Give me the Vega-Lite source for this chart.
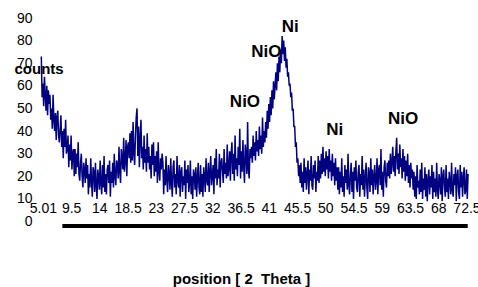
{
  "$schema": "https://vega.github.io/schema/vega-lite/v6.json",
  "width": 428,
  "height": 208,
  "autosize": "none",
  "padding": {"left": 41, "top": 18, "right": 9, "bottom": 61},
  "background": "white",
  "config": {"view": {"stroke": null}, "font": "Liberation Sans"},
  "datasets": {
    "xrd": [
      {"x":4.75,"y":73},{"x":4.875,"y":55},{"x":5.0,"y":61},{"x":5.125,"y":51},{"x":5.25,"y":64},{"x":5.375,"y":56},{"x":5.5,"y":49},{"x":5.625,"y":60},{"x":5.75,"y":47},{"x":5.875,"y":58},{"x":6.0,"y":52},
      {"x":6.125,"y":56},{"x":6.25,"y":45},{"x":6.375,"y":50},{"x":6.5,"y":41},{"x":6.625,"y":56},{"x":6.75,"y":45},{"x":6.875,"y":40},{"x":7.0,"y":48},{"x":7.125,"y":36},{"x":7.25,"y":46},{"x":7.375,"y":49},{"x":7.5,"y":38},{"x":7.625,"y":35},{"x":7.75,"y":41},{"x":7.875,"y":47},{"x":8.0,"y":33},{"x":8.125,"y":40},{"x":8.25,"y":28},{"x":8.375,"y":41},{"x":8.5,"y":33},{"x":8.625,"y":45},{"x":8.75,"y":30},{"x":8.875,"y":32},{"x":9.0,"y":38},
      {"x":9.125,"y":24},{"x":9.25,"y":34},{"x":9.375,"y":27},{"x":9.5,"y":38},{"x":9.625,"y":23},{"x":9.75,"y":30},{"x":9.875,"y":32},{"x":10.0,"y":20},{"x":10.125,"y":32},{"x":10.25,"y":21},{"x":10.375,"y":30},{"x":10.5,"y":24},{"x":10.625,"y":35},{"x":10.75,"y":21},{"x":10.875,"y":18},{"x":11.0,"y":26},{"x":11.125,"y":30},{"x":11.25,"y":20},{"x":11.375,"y":15},{"x":11.5,"y":26},{"x":11.625,"y":23},{"x":11.75,"y":17},{"x":11.875,"y":28},{"x":12.0,"y":19},
      {"x":12.125,"y":25},{"x":12.25,"y":12},{"x":12.375,"y":21},{"x":12.5,"y":15},{"x":12.625,"y":28},{"x":12.75,"y":18},{"x":12.875,"y":11},{"x":13.0,"y":24},{"x":13.125,"y":22},{"x":13.25,"y":13},{"x":13.375,"y":26},{"x":13.5,"y":16},{"x":13.625,"y":10},{"x":13.75,"y":23},{"x":13.875,"y":20},{"x":14.0,"y":14},{"x":14.125,"y":27},{"x":14.25,"y":17},{"x":14.375,"y":12},{"x":14.5,"y":25},{"x":14.625,"y":15},{"x":14.75,"y":29},{"x":14.875,"y":13},{"x":15.0,"y":21},{"x":15.125,"y":12},{"x":15.25,"y":23},{"x":15.375,"y":25},{"x":15.5,"y":17},{"x":15.625,"y":27},{"x":15.75,"y":11},{"x":15.875,"y":22},{"x":16.0,"y":17},
      {"x":16.125,"y":26},{"x":16.25,"y":15},{"x":16.375,"y":30},{"x":16.5,"y":20},{"x":16.625,"y":16},{"x":16.75,"y":27},{"x":16.875,"y":25},{"x":17.0,"y":19},{"x":17.125,"y":33},{"x":17.25,"y":22},{"x":17.375,"y":17},{"x":17.5,"y":32},{"x":17.625,"y":28},{"x":17.75,"y":23},{"x":17.875,"y":37},{"x":18.0,"y":22},{"x":18.125,"y":27},{"x":18.25,"y":36},{"x":18.375,"y":20},{"x":18.5,"y":33},{"x":18.625,"y":35},{"x":18.75,"y":28},{"x":18.875,"y":39},{"x":19.0,"y":26},
      {"x":19.125,"y":40},{"x":19.25,"y":27},{"x":19.375,"y":44},{"x":19.5,"y":30},{"x":19.625,"y":25},{"x":19.75,"y":38},{"x":19.875,"y":46},{"x":20.0,"y":50},{"x":20.125,"y":29},{"x":20.25,"y":42},{"x":20.375,"y":24},{"x":20.5,"y":36},{"x":20.625,"y":45},{"x":20.75,"y":28},{"x":20.875,"y":33},{"x":21.0,"y":23},
      {"x":21.125,"y":38},{"x":21.25,"y":26},{"x":21.375,"y":32},{"x":21.5,"y":22},{"x":21.625,"y":39},{"x":21.75,"y":26},{"x":21.875,"y":33},{"x":22.0,"y":23},{"x":22.125,"y":29},{"x":22.25,"y":19},{"x":22.375,"y":34},{"x":22.5,"y":25},{"x":22.625,"y":35},{"x":22.75,"y":20},{"x":22.875,"y":29},{"x":23.0,"y":22},{"x":23.125,"y":31},{"x":23.25,"y":17},{"x":23.375,"y":35},{"x":23.5,"y":22},{"x":23.625,"y":18},{"x":23.75,"y":28},{"x":23.875,"y":23},{"x":24.0,"y":30},
      {"x":24.125,"y":26},{"x":24.25,"y":12},{"x":24.375,"y":23},{"x":24.5,"y":16},{"x":24.625,"y":29},{"x":24.75,"y":18},{"x":24.875,"y":13},{"x":25.0,"y":25},{"x":25.125,"y":21},{"x":25.25,"y":14},{"x":25.375,"y":28},{"x":25.5,"y":17},{"x":25.625,"y":11},{"x":25.75,"y":24},{"x":25.875,"y":27},{"x":26.0,"y":15},{"x":26.125,"y":21},{"x":26.25,"y":12},{"x":26.375,"y":29},{"x":26.5,"y":18},{"x":26.625,"y":15},{"x":26.75,"y":25},{"x":26.875,"y":11},{"x":27.0,"y":22},{"x":27.125,"y":24},{"x":27.25,"y":13},{"x":27.375,"y":20},{"x":27.5,"y":16},{"x":27.625,"y":27},{"x":27.75,"y":10},{"x":27.875,"y":23},{"x":28.0,"y":17},{"x":28.125,"y":25},{"x":28.25,"y":13},{"x":28.375,"y":17},{"x":28.5,"y":27},{"x":28.625,"y":12},{"x":28.75,"y":20},{"x":28.875,"y":10},{"x":29.0,"y":23},{"x":29.125,"y":21},{"x":29.25,"y":14},{"x":29.375,"y":24},{"x":29.5,"y":11},{"x":29.625,"y":19},{"x":29.75,"y":26},{"x":29.875,"y":15},{"x":30.0,"y":12},
      {"x":30.125,"y":25},{"x":30.25,"y":13},{"x":30.375,"y":21},{"x":30.5,"y":11},{"x":30.625,"y":24},{"x":30.75,"y":20},{"x":30.875,"y":13},{"x":31.0,"y":28},{"x":31.125,"y":18},{"x":31.25,"y":16},{"x":31.375,"y":26},{"x":31.5,"y":13},{"x":31.625,"y":22},{"x":31.75,"y":29},{"x":31.875,"y":16},{"x":32.0,"y":20},{"x":32.125,"y":25},{"x":32.25,"y":12},{"x":32.375,"y":28},{"x":32.5,"y":19},{"x":32.625,"y":32},{"x":32.75,"y":16},{"x":32.875,"y":23},{"x":33.0,"y":19},{"x":33.125,"y":30},{"x":33.25,"y":15},{"x":33.375,"y":26},{"x":33.5,"y":28},{"x":33.625,"y":22},{"x":33.75,"y":17},{"x":33.875,"y":32},{"x":34.0,"y":21},{"x":34.125,"y":26},{"x":34.25,"y":19},{"x":34.375,"y":34},{"x":34.5,"y":20},{"x":34.625,"y":24},{"x":34.75,"y":31},{"x":34.875,"y":18},{"x":35.0,"y":30},
      {"x":35.125,"y":35},{"x":35.25,"y":21},{"x":35.375,"y":30},{"x":35.5,"y":18},{"x":35.625,"y":38},{"x":35.75,"y":23},{"x":35.875,"y":28},{"x":36.0,"y":20},{"x":36.125,"y":33},{"x":36.25,"y":25},{"x":36.375,"y":41},{"x":36.5,"y":19},{"x":36.625,"y":31},{"x":36.75,"y":22},{"x":36.875,"y":36},{"x":37.0,"y":24},{"x":37.125,"y":17},{"x":37.25,"y":34},{"x":37.375,"y":29},{"x":37.5,"y":21},{"x":37.625,"y":44},{"x":37.75,"y":23},{"x":37.875,"y":19},{"x":38.0,"y":32},
      {"x":38.125,"y":28},{"x":38.25,"y":33},{"x":38.375,"y":26},{"x":38.5,"y":38},{"x":38.625,"y":29},{"x":38.75,"y":35},{"x":38.875,"y":27},{"x":39.0,"y":40},{"x":39.125,"y":31},{"x":39.25,"y":36},{"x":39.375,"y":29},{"x":39.5,"y":42},{"x":39.625,"y":32},{"x":39.75,"y":38},{"x":39.875,"y":30},{"x":40.0,"y":46},{"x":40.125,"y":33},{"x":40.25,"y":40},{"x":40.375,"y":35},{"x":40.5,"y":44},{"x":40.625,"y":37},{"x":40.75,"y":49},{"x":40.875,"y":41},{"x":41.0,"y":52},
      {"x":41.125,"y":44},{"x":41.25,"y":55},{"x":41.375,"y":47},{"x":41.5,"y":58},{"x":41.625,"y":50},{"x":41.75,"y":62},{"x":41.875,"y":54},{"x":42.0,"y":60},{"x":42.125,"y":66},{"x":42.25,"y":58},{"x":42.375,"y":70},{"x":42.5,"y":62},{"x":42.625,"y":73},{"x":42.75,"y":66},{"x":42.875,"y":76},{"x":43.0,"y":70},
      {"x":43.125,"y":82},{"x":43.25,"y":74},{"x":43.375,"y":80},{"x":43.5,"y":71},{"x":43.625,"y":77},{"x":43.75,"y":68},{"x":43.875,"y":72},{"x":44.0,"y":64},
      {"x":44.125,"y":66},{"x":44.25,"y":60},{"x":44.375,"y":61},{"x":44.5,"y":55},{"x":44.625,"y":57},{"x":44.75,"y":49},{"x":44.875,"y":50},{"x":45.0,"y":42},{"x":45.125,"y":42},{"x":45.25,"y":33},{"x":45.375,"y":35},{"x":45.5,"y":26},{"x":45.625,"y":28},{"x":45.75,"y":20},{"x":45.875,"y":25},{"x":46.0,"y":17},
      {"x":46.125,"y":26},{"x":46.25,"y":15},{"x":46.375,"y":22},{"x":46.5,"y":13},{"x":46.625,"y":28},{"x":46.75,"y":17},{"x":46.875,"y":24},{"x":47.0,"y":14},{"x":47.125,"y":21},{"x":47.25,"y":27},{"x":47.375,"y":12},{"x":47.5,"y":23},{"x":47.625,"y":18},{"x":47.75,"y":29},{"x":47.875,"y":16},{"x":48.0,"y":14},{"x":48.125,"y":25},{"x":48.25,"y":19},{"x":48.375,"y":27},{"x":48.5,"y":13},{"x":48.625,"y":22},{"x":48.75,"y":18},{"x":48.875,"y":29},{"x":49.0,"y":17},
      {"x":49.125,"y":27},{"x":49.25,"y":19},{"x":49.375,"y":30},{"x":49.5,"y":21},{"x":49.625,"y":33},{"x":49.75,"y":22},{"x":49.875,"y":28},{"x":50.0,"y":20},{"x":50.125,"y":31},{"x":50.25,"y":23},{"x":50.375,"y":29},{"x":50.5,"y":19},{"x":50.625,"y":32},{"x":50.75,"y":22},{"x":50.875,"y":27},{"x":51.0,"y":18},{"x":51.125,"y":30},{"x":51.25,"y":20},{"x":51.375,"y":26},{"x":51.5,"y":16},{"x":51.625,"y":28},{"x":51.75,"y":18},{"x":51.875,"y":24},{"x":52.0,"y":14},
      {"x":52.125,"y":24},{"x":52.25,"y":12},{"x":52.375,"y":22},{"x":52.5,"y":15},{"x":52.625,"y":28},{"x":52.75,"y":13},{"x":52.875,"y":20},{"x":53.0,"y":11},{"x":53.125,"y":25},{"x":53.25,"y":17},{"x":53.375,"y":23},{"x":53.5,"y":14},{"x":53.625,"y":30},{"x":53.75,"y":16},{"x":53.875,"y":12},{"x":54.0,"y":21},{"x":54.125,"y":26},{"x":54.25,"y":13},{"x":54.375,"y":22},{"x":54.5,"y":10},{"x":54.625,"y":24},{"x":54.75,"y":18},{"x":54.875,"y":27},{"x":55.0,"y":15},{"x":55.125,"y":13},{"x":55.25,"y":22},{"x":55.375,"y":25},{"x":55.5,"y":11},{"x":55.625,"y":21},{"x":55.75,"y":16},{"x":55.875,"y":29},{"x":56.0,"y":14},{"x":56.125,"y":23},{"x":56.25,"y":11},{"x":56.375,"y":19},{"x":56.5,"y":26},{"x":56.625,"y":15},{"x":56.75,"y":10},{"x":56.875,"y":24},{"x":57.0,"y":21},{"x":57.125,"y":13},{"x":57.25,"y":28},{"x":57.375,"y":16},{"x":57.5,"y":23},{"x":57.625,"y":12},{"x":57.75,"y":20},{"x":57.875,"y":25},{"x":58.0,"y":14},{"x":58.125,"y":18},{"x":58.25,"y":28},{"x":58.375,"y":12},{"x":58.5,"y":23},{"x":58.625,"y":25},{"x":58.75,"y":16},{"x":58.875,"y":32},{"x":59.0,"y":14},{"x":59.125,"y":22},{"x":59.25,"y":11},{"x":59.375,"y":24},{"x":59.5,"y":27},{"x":59.625,"y":18},{"x":59.75,"y":15},{"x":59.875,"y":26},{"x":60.0,"y":20},
      {"x":60.125,"y":27},{"x":60.25,"y":19},{"x":60.375,"y":30},{"x":60.5,"y":21},{"x":60.625,"y":26},{"x":60.75,"y":33},{"x":60.875,"y":22},{"x":61.0,"y":29},{"x":61.125,"y":20},{"x":61.25,"y":31},{"x":61.375,"y":37},{"x":61.5,"y":23},{"x":61.625,"y":30},{"x":61.75,"y":21},{"x":61.875,"y":34},{"x":62.0,"y":24},{"x":62.125,"y":28},{"x":62.25,"y":19},{"x":62.375,"y":32},{"x":62.5,"y":22},{"x":62.625,"y":29},{"x":62.75,"y":18},{"x":62.875,"y":27},{"x":63.0,"y":20},{"x":63.125,"y":30},{"x":63.25,"y":17},{"x":63.375,"y":25},{"x":63.5,"y":15},{"x":63.625,"y":26},{"x":63.75,"y":19},{"x":63.875,"y":23},{"x":64.0,"y":14},
      {"x":64.125,"y":22},{"x":64.25,"y":11},{"x":64.375,"y":20},{"x":64.5,"y":10},{"x":64.625,"y":25},{"x":64.75,"y":15},{"x":64.875,"y":18},{"x":65.0,"y":12},{"x":65.125,"y":23},{"x":65.25,"y":13},{"x":65.375,"y":26},{"x":65.5,"y":10},{"x":65.625,"y":19},{"x":65.75,"y":14},{"x":65.875,"y":24},{"x":66.0,"y":11},{"x":66.125,"y":21},{"x":66.25,"y":9},{"x":66.375,"y":18},{"x":66.5,"y":23},{"x":66.625,"y":12},{"x":66.75,"y":20},{"x":66.875,"y":15},{"x":67.0,"y":25},{"x":67.125,"y":10},{"x":67.25,"y":22},{"x":67.375,"y":13},{"x":67.5,"y":19},{"x":67.625,"y":11},{"x":67.75,"y":26},{"x":67.875,"y":14},{"x":68.0,"y":10},{"x":68.125,"y":21},{"x":68.25,"y":18},{"x":68.375,"y":12},{"x":68.5,"y":24},{"x":68.625,"y":9},{"x":68.75,"y":20},{"x":68.875,"y":23},{"x":69.0,"y":15},{"x":69.125,"y":11},{"x":69.25,"y":25},{"x":69.375,"y":13},{"x":69.5,"y":19},{"x":69.625,"y":10},{"x":69.75,"y":22},{"x":69.875,"y":18},{"x":70.0,"y":12},{"x":70.125,"y":26},{"x":70.25,"y":14},{"x":70.375,"y":11},{"x":70.5,"y":21},{"x":70.625,"y":16},{"x":70.75,"y":24},{"x":70.875,"y":9},{"x":71.0,"y":20},{"x":71.125,"y":23},{"x":71.25,"y":13},{"x":71.375,"y":10},{"x":71.5,"y":25},{"x":71.625,"y":15},{"x":71.75,"y":22},{"x":71.875,"y":11},{"x":72.0,"y":19},{"x":72.125,"y":24},{"x":72.25,"y":12},{"x":72.375,"y":14},{"x":72.5,"y":23},{"x":72.625,"y":10},{"x":72.75,"y":21}
    ],
    "peaks": [
      {"label":"Ni","x":44.4,"y":86},
      {"label":"NiO","x":40.6,"y":75},
      {"label":"NiO","x":37.2,"y":53},
      {"label":"Ni","x":51.5,"y":40.5},
      {"label":"NiO","x":62.4,"y":45.5}
    ],
    "bar": [{"x":8.1,"x2":72.7,"y":-2}]
  },
  "layer": [
    {
      "data": {"name": "xrd"},
      "mark": {"type": "line", "color": "#000080", "strokeWidth": 1.5},
      "encoding": {
        "x": {
          "field": "x", "type": "quantitative",
          "scale": {"domain": [4.7, 72.9], "nice": false, "zero": false},
          "axis": {
            "values": [5.01, 9.5, 14, 18.5, 23, 27.5, 32, 36.5, 41, 45.5, 50, 54.5, 59, 63.5, 68, 72.5],
            "tickCount": 40,
            "labelExpr": "'' + datum.value",
            "domain": false, "ticks": false, "grid": false,
            "labelOverlap": false, "labelFlush": false, "labelBound": false,
            "labelFontSize": 14, "labelColor": "#000000", "labelBaseline": "middle",
            "labelPadding": -18,
            "zindex": 1,
            "title": "position [ 2\u00a0 Theta ]",
            "titleFontSize": 15, "titleFontWeight": "bold", "titleColor": "#000000",
            "titleX": 200, "titleY": 52, "titleBaseline": "middle", "titleAnchor": "middle"
          }
        },
        "y": {
          "field": "y", "type": "quantitative",
          "scale": {"domain": [-2, 90], "nice": false, "zero": false},
          "axis": {
            "values": [0, 10, 20, 30, 40, 50, 60, 70, 80, 90],
            "tickCount": 40,
            "labelOverlap": false,
            "domain": false, "ticks": false, "grid": false,
            "labelFontSize": 14, "labelColor": "#000000", "labelPadding": 9,
            "title": "counts", "titleAngle": 0, "titleFontSize": 15, "titleFontWeight": "bold",
            "titleColor": "#000000", "titleAlign": "left", "titleBaseline": "middle",
            "titleX": -27, "titleY": 50, "zindex": 1
          }
        }
      }
    },
    {
      "data": {"name": "bar"},
      "mark": {"type": "rule", "color": "#000000", "strokeWidth": 4},
      "encoding": {
        "x": {"field": "x", "type": "quantitative"},
        "x2": {"field": "x2"},
        "y": {"field": "y", "type": "quantitative"}
      }
    },
    {
      "data": {"name": "peaks"},
      "mark": {"type": "text", "fontSize": 17, "fontWeight": "bold", "color": "#000000", "baseline": "middle", "align": "center"},
      "encoding": {
        "x": {"field": "x", "type": "quantitative"},
        "y": {"field": "y", "type": "quantitative"},
        "text": {"field": "label"}
      }
    }
  ]
}
